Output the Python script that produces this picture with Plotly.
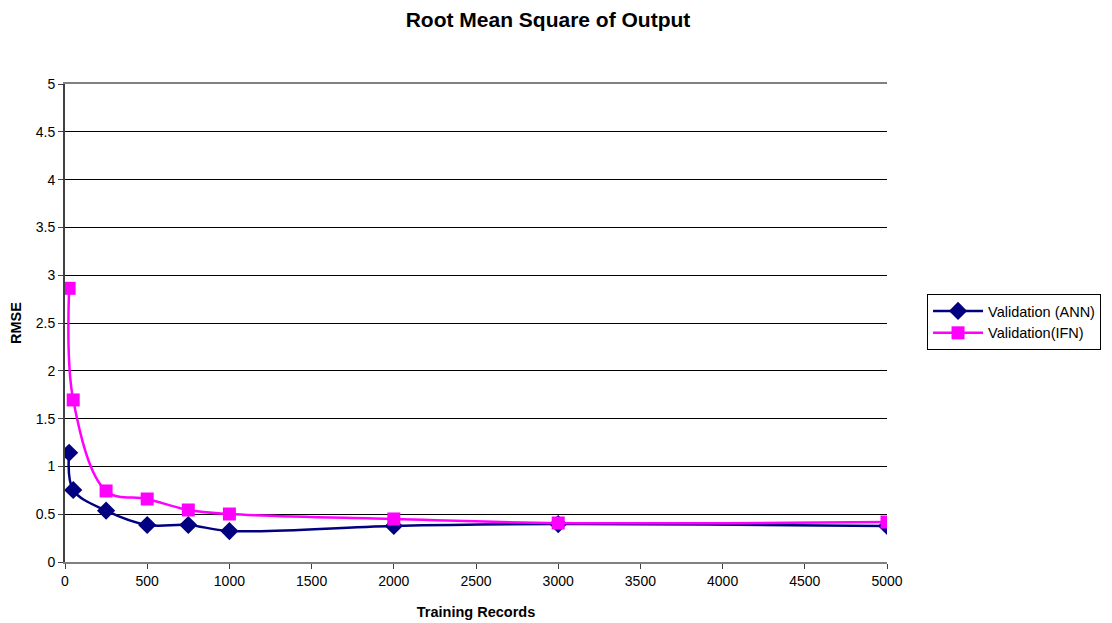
import plotly.graph_objects as go

records = [25, 50, 250, 500, 750, 1000, 2000, 3000, 5000]
ann_rmse = [1.143, 0.753, 0.537, 0.387, 0.387, 0.324, 0.377, 0.397, 0.377]
ifn_rmse = [2.863, 1.695, 0.743, 0.659, 0.544, 0.502, 0.45, 0.408, 0.418]

FONT = "Liberation Sans, Arial, sans-serif"

fig = go.Figure()
fig.add_trace(go.Scatter(
    x=records, y=ann_rmse, name="Validation (ANN)", mode="lines+markers",
    line=dict(color="#000080", width=2.5, shape="spline", smoothing=1),
    marker=dict(symbol="diamond", size=14, color="#000080"),
))
fig.add_trace(go.Scatter(
    x=records, y=ifn_rmse, name="Validation(IFN)", mode="lines+markers",
    line=dict(color="#FF00FF", width=2.5, shape="spline", smoothing=1),
    marker=dict(symbol="square", size=13, color="#FF00FF"),
))

fig.update_layout(
    width=1112, height=623,
    margin=dict(l=57, r=233, t=76, b=69),
    paper_bgcolor="white", plot_bgcolor="white",
    font=dict(family=FONT, size=14, color="black"),
    title=dict(text="<b>Root Mean Square of Output</b>", x=0.4856, xanchor="center",
               y=0.993, yanchor="top", pad=dict(t=0), font=dict(size=21, family=FONT)),
    legend=dict(x=1.0487, xanchor="left", y=0.502, yanchor="middle",
                bordercolor="black", borderwidth=1, bgcolor="white",
                itemwidth=50,
                font=dict(size=14.5, family=FONT), tracegroupgap=2),
    showlegend=True,
)
fig.update_xaxes(
    range=[0, 5000], tickmode="linear", tick0=0, dtick=500,
    showgrid=False, zeroline=False, automargin=False,
    showline=True, linecolor="#808080", linewidth=2, mirror=True,
    ticks="outside", ticklen=5, tickcolor="#404040",
    tickfont=dict(size=14),
    title=dict(text="<b>Training Records</b>", font=dict(size=14.5), standoff=19),
)
fig.update_yaxes(
    range=[0, 5], tickmode="linear", tick0=0, dtick=0.5,
    showgrid=True, gridcolor="black", gridwidth=1, zeroline=False, automargin=False,
    showline=True, linecolor="#404040", linewidth=2,
    ticks="outside", ticklen=5, tickcolor="#404040",
    tickfont=dict(size=14),
    title=dict(text="<b>RMSE</b>", font=dict(size=14.5), standoff=14),
)

fig.write_html("out.html")
